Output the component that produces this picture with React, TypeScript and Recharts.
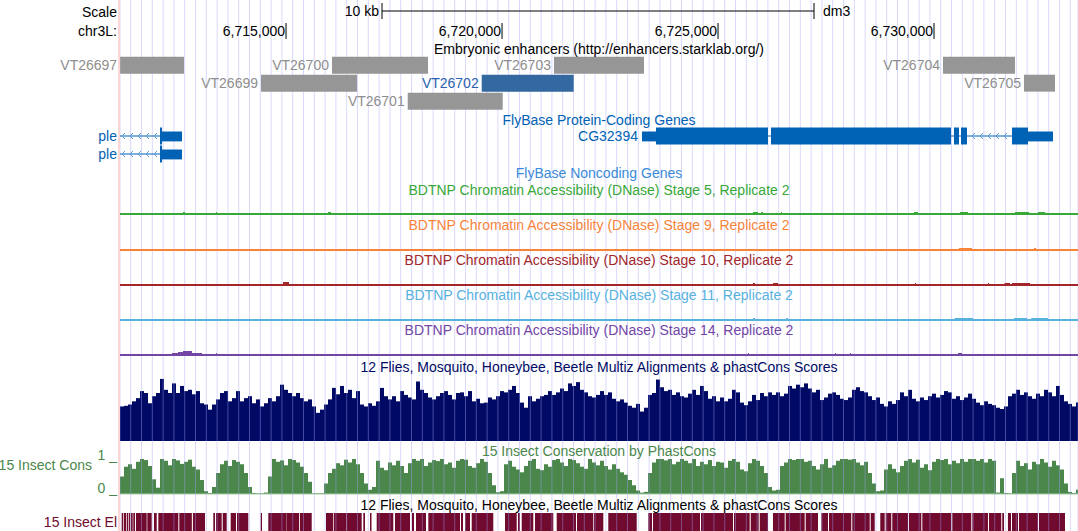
import React from 'react';
import {
  Bar,
  BarChart,
  CartesianGrid,
  ComposedChart,
  ReferenceArea,
  ReferenceLine,
  XAxis,
  YAxis,
} from 'recharts';

// chr3L window shown in the browser image (dm3)
const VIEW_START = 6711157;
const VIEW_END = 6733333;

const RULER_TICKS = [6715000, 6720000, 6725000, 6730000];
const SCALE_BAR = [6717222, 6727222];
const GRID_FIRST = 6711405;
const GRID_STEP = 250;

const ENHANCERS = [
  { name: 'VT26697', row: 0, start: 6711160, end: 6712638 },
  { name: 'VT26700', row: 0, start: 6716064, end: 6718287 },
  { name: 'VT26703', row: 0, start: 6721203, end: 6723287 },
  { name: 'VT26704', row: 0, start: 6730208, end: 6731874 },
  { name: 'VT26699', row: 1, start: 6714421, end: 6716643 },
  { name: 'VT26702', row: 1, start: 6719530, end: 6721659 },
  { name: 'VT26705', row: 1, start: 6732083, end: 6732800 },
  { name: 'VT26701', row: 2, start: 6717817, end: 6720016 },
];
const SELECTED_ENHANCER = 'VT26702';

type Block = [number, number];
const GENES: { name: string; row: number; span: Block; cds: Block[]; utr: Block[] }[] = [
  { name: 'ple', row: 0, span: [6708000, 6712592], cds: [[6712083, 6712129]], utr: [[6712129, 6712592]] },
  { name: 'ple', row: 1, span: [6708000, 6712592], cds: [[6712083, 6712129]], utr: [[6712129, 6712592]] },
  {
    name: 'CG32394',
    row: 0,
    span: [6723240, 6732754],
    cds: [
      [6723564, 6726157],
      [6726226, 6730393],
      [6730462, 6730578],
      [6730624, 6730763],
      [6731805, 6732175],
    ],
    utr: [
      [6723240, 6723564],
      [6732175, 6732754],
    ],
  },
];

const DNASE_STAGES = [5, 9, 10, 11, 14];
// [start, end, signal]
const DNASE_PEAKS: [number, number, number][][] = [
  [
    [6712615, 6712661, 2], [6713379, 6713400, 2], [6715972, 6716041, 2], [6725810, 6725926, 2],
    [6726000, 6726040, 2], [6726458, 6726480, 2], [6729536, 6729630, 2], [6730602, 6730787, 2],
    [6731874, 6732198, 2], [6732407, 6732569, 2],
  ],
  [
    [6730579, 6730880, 2], [6732314, 6732361, 2],
  ],
  [
    [6714930, 6715069, 3], [6725810, 6725856, 2], [6726273, 6726388, 2], [6729559, 6729582, 2],
    [6731250, 6731273, 2], [6731632, 6731759, 2], [6731805, 6732222, 2],
  ],
  [
    [6725810, 6725856, 2], [6726580, 6726620, 2], [6730480, 6730903, 2], [6731851, 6732152, 2],
    [6732251, 6732638, 2],
  ],
  [
    [6712361, 6712500, 2], [6712500, 6712615, 3], [6712615, 6712824, 4], [6712824, 6713055, 2],
    [6713379, 6713400, 2], [6725694, 6725717, 2], [6727708, 6727731, 2], [6728056, 6728079, 2],
    [6730555, 6730648, 2],
  ],
];

// 240 equal bins across the window, percent of track height
const MULTIZ_SCORES = [
  54, 55, 57, 62, 67, 78, 75, 59, 70, 75,
  97, 80, 75, 90, 75, 86, 78, 80, 73, 78,
  59, 57, 49, 57, 65, 75, 78, 62, 67, 78,
  62, 67, 70, 59, 65, 54, 59, 67, 62, 70,
  88, 80, 75, 70, 75, 67, 62, 65, 54, 44,
  49, 57, 65, 83, 73, 86, 75, 80, 67, 78,
  57, 54, 59, 55, 62, 83, 70, 65, 70, 62,
  78, 72, 68, 65, 93, 80, 75, 68, 65, 70,
  75, 78, 72, 65, 75, 76, 70, 78, 62, 66,
  59, 60, 68, 65, 70, 78, 76, 80, 86, 75,
  60, 52, 70, 62, 66, 70, 72, 78, 72, 76,
  82, 78, 90, 86, 92, 80, 76, 70, 68, 72,
  78, 72, 76, 66, 62, 65, 60, 55, 52, 58,
  46, 52, 72, 75, 96, 84, 78, 80, 72, 76,
  70, 68, 74, 80, 72, 86, 78, 66, 70, 62,
  68, 62, 66, 80, 76, 60, 56, 62, 72, 64,
  75, 70, 76, 72, 76, 70, 74, 86, 82, 88,
  84, 90, 82, 76, 80, 64, 68, 74, 76, 72,
  66, 64, 68, 80, 84, 78, 76, 70, 64, 68,
  58, 54, 62, 58, 64, 76, 70, 80, 66, 62,
  68, 64, 70, 74, 68, 72, 78, 76, 66, 70,
  64, 68, 74, 66, 60, 56, 62, 58, 56, 52,
  50, 54, 70, 74, 80, 72, 76, 70, 66, 74,
  70, 80, 76, 70, 86, 72, 62, 58, 54, 60,
];

const PHASTCONS_SCORES = [
  50, 78, 85, 72, 92, 100, 97, 80, 42, 18,
  100, 95, 82, 100, 96, 86, 92, 98, 78, 70,
  40, 8, 3, 20, 60, 85, 95, 80, 97, 92,
  85, 60, 20, 3, 2, 2, 4, 50, 100, 92,
  96, 82, 100, 97, 90, 78, 60, 35, 2, 2,
  2, 30, 60, 72, 88, 82, 98, 90, 100, 85,
  60, 30, 12, 20, 95, 75, 68, 90, 82, 95,
  80, 60, 88, 100, 95, 100, 80, 90, 97, 94,
  100, 85, 90, 75, 95, 100, 98, 80, 75, 88,
  100, 92, 60, 25, 5, 8, 85, 95, 78, 70,
  62, 80, 95, 100, 72, 68, 85, 78, 97, 100,
  90, 80, 100, 97, 88, 78, 72, 100, 90, 82,
  95, 80, 70, 85, 72, 62, 55, 40, 25, 10,
  4, 6, 60, 90, 100, 100, 96, 100, 85, 92,
  100, 95, 88, 100, 80, 92, 85, 97, 80, 92,
  90, 75, 95, 100, 92, 70, 65, 88, 100, 95,
  80, 60, 20, 10, 12, 80, 90, 100, 97, 100,
  100, 92, 95, 80, 70, 85, 100, 75, 82, 95,
  100, 100, 98, 100, 90, 82, 92, 60, 30, 8,
  10, 70, 85, 72, 62, 80, 95, 100, 90, 98,
  75, 85, 68, 92, 100, 97, 100, 85, 95, 88,
  100, 92, 100, 100, 95, 100, 90, 100, 95, 4,
  45, 3, 2, 60, 95, 80, 88, 70, 92, 85,
  100, 90, 78, 95, 82, 70, 30, 6, 3, 12,
];

const CONSERVED_ELEMENTS: Block[] = [
  [6711196, 6711233], [6711250, 6711296], [6711312, 6711349], [6711365, 6711388], [6711405, 6711451],
  [6711465, 6711504], [6711527, 6711775], [6711789, 6711891], [6711944, 6712007], [6712044, 6712507],
  [6712530, 6712820], [6712845, 6713125], [6713317, 6713356], [6713379, 6713511], [6713534, 6713627],
  [6713719, 6713842], [6713865, 6714127], [6714414, 6714444], [6714590, 6715016], [6715023, 6715300],
  [6715320, 6715595], [6715925, 6716094], [6716111, 6716405], [6716412, 6716752], [6716789, 6716828],
  [6716944, 6716979], [6717099, 6717483], [6717523, 6717870], [6717916, 6717963], [6718009, 6718240],
  [6718294, 6719027], [6719050, 6719097], [6719143, 6719259], [6719298, 6719798], [6720069, 6720340],
  [6720370, 6720416], [6720456, 6720724], [6720763, 6721187], [6721266, 6721712], [6721736, 6722113],
  [6722129, 6722345], [6722460, 6723118], [6723386, 6723472], [6723495, 6724583], [6724606, 6725347],
  [6725370, 6725733], [6725757, 6725942], [6725965, 6726157], [6726272, 6726543], [6726566, 6727006],
  [6727030, 6727314], [6727391, 6727546], [6727569, 6728085], [6728108, 6728511], [6728534, 6728627],
  [6728756, 6728858], [6728881, 6729011], [6729034, 6729398], [6729421, 6729706], [6729729, 6730400],
  [6730423, 6730863], [6730886, 6731249], [6731273, 6731557], [6731580, 6731620], [6731711, 6731782],
  [6731805, 6731944], [6731967, 6732407], [6732430, 6733032],
];

// layout + colours
const W = 1078;
const H = 531;
const LEFT = 120;
const PLOT_W = W - LEFT;
const FONT = '"Liberation Sans", Arial, Helvetica, sans-serif';
const GRID_COLOR = 'rgba(165,165,250,0.42)';
const ENH_GRAY = '#969696';
const ENH_LABEL = '#8e8e8e';
const ENH_SELECTED = '#3368a0';
const ENH_SELECTED_LABEL = '#2a62ae';
const GENE_BLUE = '#0062b4';
const INTRON_ARROW = '#5c9bd8';
const NONCODING_BLUE = '#3a8ad8';
const DNASE_COLORS = ['#38a838', '#f8843a', '#a2262a', '#58b2de', '#7346a6'];
const DNASE_LINE_Y = [214.3, 249.7, 285, 320, 355];
const DNASE_TITLE_Y = [190, 225, 260, 295, 330];
const MULTIZ_NAVY = '#000a64';
const CONS_GREEN = '#4b874b';
const CONS_BASE = '#a8cca8';
const ELEMENT_RED = '#700a2e';

const GRID_TICKS = Array.from(
  { length: Math.floor((VIEW_END - GRID_FIRST) / GRID_STEP) + 1 },
  (_, i) => GRID_FIRST + i * GRID_STEP,
);

const fmt = (n: number) => n.toLocaleString('en-US');

function TextAt({
  x,
  cy,
  anchor = 'middle',
  color = '#000',
  children,
}: {
  x: number;
  cy: number;
  anchor?: 'start' | 'middle' | 'end';
  color?: string;
  children: React.ReactNode;
}) {
  const style: React.CSSProperties = {
    position: 'absolute',
    top: cy - 8,
    height: 16,
    lineHeight: '16px',
    fontSize: 14,
    color,
    whiteSpace: 'nowrap',
  };
  if (anchor === 'end') style.right = W - x;
  else if (anchor === 'start') style.left = x;
  else {
    style.left = x - 500;
    style.width = 1000;
    style.textAlign = 'center';
  }
  return <div style={style}>{children}</div>;
}

function Track({
  top,
  height,
  yMax,
  reversed = false,
  marginBottom = 0,
  children,
}: {
  top: number;
  height: number;
  yMax: number;
  reversed?: boolean;
  marginBottom?: number;
  children: React.ReactNode;
}) {
  return (
    <div style={{ position: 'absolute', left: 0, top, width: W, height }}>
      <ComposedChart
        width={W}
        height={height}
        margin={{ top: 0, right: 0, bottom: marginBottom, left: LEFT }}
      >
        <XAxis type="number" dataKey="x" domain={[VIEW_START, VIEW_END]} allowDataOverflow hide />
        <YAxis type="number" domain={[0, yMax]} allowDataOverflow hide reversed={reversed} />
        {children}
      </ComposedChart>
    </div>
  );
}

function GridLayer({ top, height }: { top: number; height: number }) {
  return (
    <div style={{ position: 'absolute', left: LEFT, top, width: PLOT_W, height }}>
      <ComposedChart width={PLOT_W} height={height} margin={{ top: 0, right: 0, bottom: 0, left: 0 }}>
        <XAxis
          type="number"
          dataKey="x"
          domain={[VIEW_START, VIEW_END]}
          ticks={GRID_TICKS}
          interval={0}
          allowDataOverflow
          hide
        />
        <YAxis type="number" domain={[0, 1]} hide />
        <CartesianGrid horizontal={false} stroke={GRID_COLOR} />
      </ComposedChart>
    </div>
  );
}

function IntronShape(props: any) {
  const { x, y, width, height } = props;
  const cy = y + height / 2;
  const arrows = [];
  for (let cx = x + 3; cx < x + width - 2; cx += 8) {
    arrows.push(
      <polyline
        key={cx}
        points={`${cx + 2},${cy - 3} ${cx - 1},${cy} ${cx + 2},${cy + 3}`}
        fill="none"
        stroke={INTRON_ARROW}
        strokeWidth={1}
      />,
    );
  }
  return (
    <g>
      <line x1={x} x2={x + width} y1={cy} y2={cy} stroke={GENE_BLUE} strokeWidth={1} />
      {arrows}
    </g>
  );
}

const labelStyle = (fill: string, offset = 3) => ({
  position: 'left' as const,
  offset,
  fill,
  fontSize: 14,
  fontFamily: FONT,
});

export default function App() {
  const multizData = MULTIZ_SCORES.map((score, bin) => ({ bin, score }));
  const consData = PHASTCONS_SCORES.map((score, bin) => ({ bin, score }));

  return (
    <div
      style={{
        position: 'absolute',
        left: 0,
        top: 0,
        width: W,
        height: H,
        overflow: 'hidden',
        background: '#fff',
        fontFamily: FONT,
      }}
    >
      <GridLayer top={0} height={372} />
      <div style={{ position: 'absolute', left: LEFT - 2, top: 0, width: 2, height: H, background: '#ffd6d6' }} />

      {/* scale bar */}
      <Track top={3} height={16} yMax={1}>
        <ReferenceLine
          segment={[
            { x: SCALE_BAR[0], y: 0.5 },
            { x: SCALE_BAR[1], y: 0.5 },
          ]}
          stroke="#000"
        />
        <ReferenceLine
          x={SCALE_BAR[0]}
          stroke="#000"
          label={{ value: '10 kb', position: 'left', offset: 3, fill: '#000', fontSize: 14, fontFamily: FONT }}
        />
        <ReferenceLine
          x={SCALE_BAR[1]}
          stroke="#000"
          label={{ value: 'dm3', position: 'right', offset: 9, fill: '#000', fontSize: 14, fontFamily: FONT }}
        />
      </Track>

      {/* coordinate ruler */}
      <Track top={22.5} height={16} yMax={1}>
        {RULER_TICKS.map((t) => (
          <ReferenceLine
            key={t}
            x={t}
            stroke="#000"
            label={{ value: fmt(t), position: 'left', offset: 1, fill: '#000', fontSize: 14, fontFamily: FONT }}
          />
        ))}
      </Track>

      {/* enhancers */}
      <Track top={56} height={54} yMax={3} reversed>
        {ENHANCERS.map((e) => {
          const sel = e.name === SELECTED_ENHANCER;
          return (
            <ReferenceArea
              key={e.name}
              x1={Math.max(e.start, VIEW_START)}
              x2={e.end}
              y1={e.row + 0.04}
              y2={e.row + 0.98}
              fill={sel ? ENH_SELECTED : ENH_GRAY}
              fillOpacity={1}
              stroke="none"
              label={labelStyle(sel ? ENH_SELECTED_LABEL : ENH_LABEL)}
              {...{ label: { ...labelStyle(sel ? ENH_SELECTED_LABEL : ENH_LABEL), value: e.name } }}
            />
          );
        })}
      </Track>

      {/* genes */}
      <Track top={127} height={36} yMax={2} reversed>
        {GENES.flatMap((g, gi) => [
          <ReferenceArea
            key={`intron-${gi}`}
            x1={Math.max(g.span[0], VIEW_START)}
            x2={g.span[1]}
            y1={g.row + 0.3}
            y2={g.row + 0.7}
            shape={<IntronShape />}
            label={{ ...labelStyle(GENE_BLUE, gi === 2 ? 4 : 3), value: g.name }}
          />,
          ...g.utr.map((b, k) => (
            <ReferenceArea
              key={`utr-${gi}-${k}`}
              x1={b[0]}
              x2={b[1]}
              y1={g.row + 0.25}
              y2={g.row + 0.8}
              fill={GENE_BLUE}
              fillOpacity={1}
              stroke="none"
            />
          )),
          ...g.cds.map((b, k) => (
            <ReferenceArea
              key={`cds-${gi}-${k}`}
              x1={b[0]}
              x2={b[1]}
              y1={g.row + 0.03}
              y2={g.row + 0.97}
              fill={GENE_BLUE}
              fillOpacity={1}
              stroke="none"
            />
          )),
        ])}
      </Track>

      {/* DNase accessibility */}
      {DNASE_STAGES.map((stage, si) => (
        <Track key={stage} top={DNASE_LINE_Y[si] - 9} height={11} yMax={9} marginBottom={2}>
          <ReferenceLine y={0} stroke={DNASE_COLORS[si]} strokeWidth={2} />
          {DNASE_PEAKS[si].map((p, k) => (
            <ReferenceArea
              key={k}
              x1={p[0]}
              x2={p[1]}
              y1={0}
              y2={p[2]}
              fill={DNASE_COLORS[si]}
              fillOpacity={1}
              stroke="none"
            />
          ))}
        </Track>
      ))}

      {/* multiz conservation */}
      <div style={{ position: 'absolute', left: LEFT, top: 377, width: 960, height: 64 }}>
        <BarChart
          width={960}
          height={64}
          data={multizData}
          margin={{ top: 0, right: 0, bottom: 0, left: 0 }}
          barCategoryGap={0}
          barGap={0}
        >
          <XAxis dataKey="bin" hide />
          <YAxis domain={[0, 100]} allowDataOverflow hide />
          <Bar dataKey="score" fill={MULTIZ_NAVY} isAnimationActive={false} />
        </BarChart>
      </div>

      {/* phastCons */}
      <div style={{ position: 'absolute', left: LEFT, top: 459, width: 960, height: 36 }}>
        <BarChart
          width={960}
          height={36}
          data={consData}
          margin={{ top: 0, right: 0, bottom: 1, left: 0 }}
          barCategoryGap={0}
          barGap={0}
        >
          <XAxis dataKey="bin" hide />
          <YAxis domain={[0, 100]} allowDataOverflow hide />
          <ReferenceLine y={0} stroke={CONS_BASE} />
          <Bar dataKey="score" fill={CONS_GREEN} isAnimationActive={false} />
        </BarChart>
      </div>

      {/* conserved elements */}
      <Track top={513} height={18} yMax={1}>
        {CONSERVED_ELEMENTS.map((b, k) => (
          <ReferenceArea
            key={k}
            x1={b[0]}
            x2={b[1]}
            y1={0}
            y2={1}
            fill={ELEMENT_RED}
            fillOpacity={1}
            stroke="none"
          />
        ))}
      </Track>

      <GridLayer top={372} height={159} />

      <TextAt x={117} cy={12.3} anchor="end">Scale</TextAt>
      <TextAt x={117} cy={30.5} anchor="end">chr3L:</TextAt>
      <TextAt x={599} cy={49}>Embryonic enhancers (http://enhancers.starklab.org/)</TextAt>
      <TextAt x={599} cy={119.7} color={GENE_BLUE}>FlyBase Protein-Coding Genes</TextAt>
      <TextAt x={599} cy={173} color={NONCODING_BLUE}>FlyBase Noncoding Genes</TextAt>
      {DNASE_STAGES.map((stage, si) => (
        <TextAt key={stage} x={599} cy={DNASE_TITLE_Y[si]} color={DNASE_COLORS[si]}>
          {`BDTNP Chromatin Accessibility (DNase) Stage ${stage}, Replicate 2`}
        </TextAt>
      ))}
      <TextAt x={599} cy={366.7} color={MULTIZ_NAVY}>
        12 Flies, Mosquito, Honeybee, Beetle Multiz Alignments &amp; phastCons Scores
      </TextAt>
      <TextAt x={599} cy={450.7} color={CONS_GREEN}>15 Insect Conservation by PhastCons</TextAt>
      <TextAt x={92} cy={465} anchor="end" color={CONS_GREEN}>15 Insect Cons</TextAt>
      <TextAt x={117} cy={454.5} anchor="end" color={CONS_GREEN}>1 _</TextAt>
      <TextAt x={117} cy={488.3} anchor="end" color={CONS_GREEN}>0 _</TextAt>
      <TextAt x={599} cy={505}>
        12 Flies, Mosquito, Honeybee, Beetle Multiz Alignments &amp; phastCons Scores
      </TextAt>
      <TextAt x={117} cy={521.7} anchor="end" color={ELEMENT_RED}>15 Insect El</TextAt>
    </div>
  );
}
